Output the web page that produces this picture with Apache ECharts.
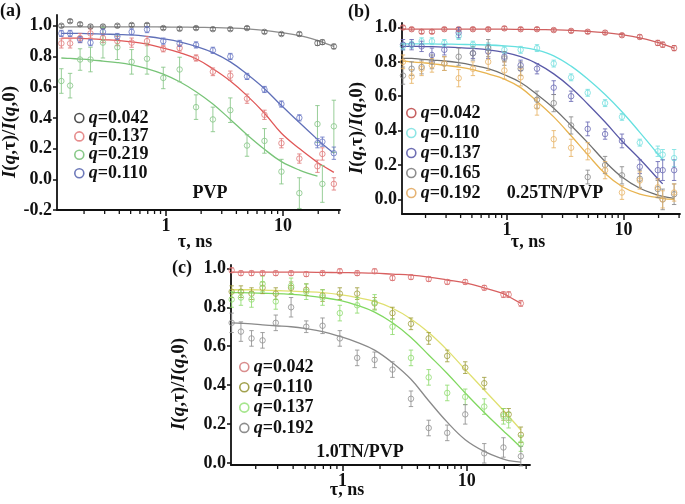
<!DOCTYPE html>
<html><head><meta charset="utf-8">
<script src="https://cdn.jsdelivr.net/npm/echarts@6/dist/echarts.min.js"></script>
<style>html,body{margin:0;padding:0;background:#fff}#c{width:685px;height:504px}</style>
</head><body><div id="c"></div>
<script>
// delay times (ns), shared by all panels
const tau = [0.128, 0.152, 0.185, 0.227, 0.29, 0.385, 0.51, 0.69, 0.95, 1.31, 1.81, 2.52, 3.55, 4.93, 6.95, 9.7, 13.8, 19.7, 21.7, 27.2];
const xMajorTicks = [1, 10];
const xMinorTicks = [0.2,0.3,0.4,0.5,0.6,0.7,0.8,0.9,2,3,4,5,6,7,8,9,20,30];

// ---- Panel (a) PVP ----
const A_yTicks = [-0.2, 0, 0.2, 0.4, 0.6, 0.8, 1.0];
const A_042 = [1.0, 1.03, 1.01, 0.995, 0.995, 1.0, 1.005, 1.005, 0.985, 0.98, 0.985, 0.978, 0.978, 0.985, 0.96, 0.946, 0.946, 0.887, 0.893, 0.865];
const A_042_err = [0.01,0.01,0.01,0.01,0.01,0.01,0.01,0.01,0.01,0.01,0.01,0.01,0.01,0.01,0.01,0.01,0.012,0.015,0.015,0.015];
const A_042_fit = [0.993,0.993,0.993,0.993,0.993,0.993,0.993,0.993,0.992,0.991,0.99,0.988,0.985,0.98,0.97,0.955,0.935,0.905,0.893,0.865];
const A_137 = [0.885, 0.885, 0.92, 0.95, 0.92, 0.90, 0.89, 0.90, 0.85, 0.855, 0.79, 0.70, 0.675, 0.525, 0.42, 0.235, 0.135, 0.085, 0.165, -0.03];
const A_137_err = [0.03,0.03,0.03,0.03,0.03,0.03,0.03,0.03,0.02,0.02,0.02,0.025,0.03,0.03,0.03,0.03,0.03,0.04,0.04,0.04];
const A_137_fit = [0.92,0.92,0.918,0.915,0.91,0.905,0.895,0.88,0.855,0.825,0.785,0.72,0.64,0.545,0.43,0.30,0.20,0.11,0.09,0.045];
const A_219 = [0.64, 0.61, 0.78, 0.78, 0.89, 0.86, 0.765, 0.785, 0.66, 0.715, 0.47, 0.39, 0.45, 0.22, 0.25, 0.05, -0.09, 0.36, -0.03, 0.345];
const A_219_err = [0.08,0.08,0.07,0.08,0.1,0.08,0.08,0.1,0.07,0.08,0.08,0.08,0.08,0.07,0.08,0.08,0.1,0.12,0.12,0.17];
const A_219_fit = [0.79,0.787,0.783,0.778,0.77,0.76,0.745,0.72,0.685,0.635,0.57,0.49,0.39,0.29,0.195,0.115,0.06,0.02,null,null];
const A_110 = [0.95, 0.95, 0.91, 0.89, 0.96, 0.93, 0.96, 0.975, 0.90, 0.885, 0.875, 0.84, 0.80, 0.67, 0.585, 0.49, 0.40, 0.235, 0.245, 0.17];
const A_110_err = [0.02,0.02,0.02,0.02,0.02,0.02,0.02,0.02,0.02,0.02,0.02,0.02,0.02,0.02,0.02,0.02,0.02,0.03,0.03,0.04];
const A_110_fit = [0.95,0.95,0.95,0.948,0.946,0.943,0.94,0.93,0.915,0.895,0.865,0.825,0.765,0.685,0.59,0.48,0.37,0.26,0.23,0.17];

// ---- Panel (b) 0.25TN/PVP ----
const B_yTicks = [0, 0.2, 0.4, 0.6, 0.8, 1.0];
const B_042 = [1.0, 0.99, 0.975, 0.975, 0.99, 0.99, 0.99, 0.99, 0.995, 0.99, 0.99, 0.985, 0.98, 0.975, 0.97, 0.955, 0.945, 0.91, 0.90, 0.88];
const B_042_err = [0.01,0.01,0.01,0.01,0.01,0.01,0.01,0.01,0.01,0.01,0.01,0.01,0.01,0.01,0.01,0.01,0.012,0.015,0.015,0.015];
const B_042_fit = [0.99,0.99,0.99,0.99,0.99,0.99,0.99,0.99,0.99,0.989,0.988,0.986,0.983,0.978,0.97,0.958,0.94,0.913,0.903,0.88];
const B_110 = [0.89, 0.90, 0.92, 0.92, 0.91, 0.95, 0.90, 0.89, 0.87, 0.87, 0.88, 0.79, 0.71, 0.62, 0.56, 0.48, 0.33, 0.28, 0.26, 0.24];
const B_110_err = [0.02,0.02,0.02,0.02,0.02,0.02,0.02,0.02,0.02,0.02,0.02,0.02,0.02,0.02,0.02,0.02,0.02,0.03,0.03,0.05];
const B_110_fit = [0.905,0.905,0.905,0.904,0.903,0.902,0.9,0.898,0.893,0.885,0.868,0.835,0.775,0.70,0.61,0.51,0.39,0.265,0.23,null];
const B_137 = [0.90, 0.90, 0.89, 0.84, 0.87, 0.97, 0.85, 0.86, 0.83, 0.78, 0.76, 0.65, 0.60, 0.41, 0.38, 0.34, 0.19, 0.17, 0.17, 0.17];
const B_137_err = [0.03,0.03,0.03,0.04,0.03,0.03,0.03,0.04,0.03,0.03,0.03,0.04,0.03,0.04,0.03,0.04,0.04,0.05,0.06,0.06];
const B_137_fit = [0.89,0.89,0.889,0.888,0.886,0.883,0.878,0.87,0.855,0.83,0.79,0.73,0.65,0.555,0.45,0.34,0.235,0.12,0.09,null];
const B_165 = [0.72, 0.76, 0.77, 0.80, 0.79, 0.83, 0.85, 0.88, 0.82, 0.76, 0.58, 0.56, 0.43, 0.13, 0.20, 0.14, 0.12, 0.06, 0.0, 0.03];
const B_165_err = [0.05,0.04,0.04,0.04,0.04,0.05,0.04,0.05,0.04,0.04,0.05,0.05,0.05,0.04,0.05,0.05,0.05,0.05,0.06,0.06];
const B_165_fit = [0.82,0.82,0.815,0.81,0.805,0.795,0.78,0.76,0.725,0.68,0.61,0.53,0.43,0.33,0.22,0.13,0.065,0.025,0.018,0.006];
const B_192 = [0.80, 0.715, 0.76, 0.78, 0.79, 0.705, 0.76, 0.80, 0.75, 0.71, 0.54, 0.35, 0.30, 0.28, 0.17, 0.04, 0.11, 0.07, 0.0, 0.04];
const B_192_err = [0.04,0.04,0.04,0.04,0.04,0.05,0.04,0.05,0.05,0.05,0.05,0.05,0.05,0.05,0.05,0.04,0.05,0.05,0.05,0.05];
const B_192_fit = [0.805,0.80,0.795,0.79,0.78,0.77,0.755,0.73,0.70,0.65,0.57,0.48,0.37,0.26,0.15,0.075,0.03,0.01,0.005,0.0];

// ---- Panel (c) 1.0TN/PVP ----
const C_yTicks = [0, 0.2, 0.4, 0.6, 0.8, 1.0];
const C_042 = [0.99, 0.975, 0.975, 0.975, 0.975, 0.975, 0.97, 0.975, 0.985, 0.975, 0.985, 0.95, 0.955, 0.945, 0.93, 0.93, 0.90, 0.865, 0.865, 0.82];
const C_042_err = [0.012,0.012,0.012,0.012,0.012,0.012,0.012,0.012,0.012,0.012,0.012,0.012,0.012,0.012,0.012,0.012,0.012,0.015,0.015,0.015];
const C_042_fit = [0.98,0.98,0.98,0.98,0.98,0.98,0.98,0.979,0.978,0.977,0.975,0.97,0.965,0.955,0.94,0.925,0.90,0.87,0.855,0.82];
const C_110 = [0.88, 0.88, 0.87, 0.90, 0.87, 0.90, 0.89, 0.86, 0.87, 0.87, 0.82, 0.77, 0.715, 0.64, 0.55, 0.49, 0.41, 0.25, 0.25, 0.145];
const C_110_err = [0.03,0.03,0.03,0.03,0.03,0.03,0.03,0.03,0.03,0.03,0.03,0.03,0.03,0.03,0.03,0.03,0.03,0.03,0.03,0.04];
const C_110_fit = [0.89,0.89,0.89,0.888,0.886,0.883,0.88,0.875,0.865,0.85,0.83,0.795,0.74,0.67,0.58,0.48,0.375,0.27,0.24,0.17];
const C_137 = [0.84, 0.85, 0.84, 0.92, 0.83, 0.91, 0.88, 0.85, 0.77, 0.81, 0.825, 0.70, 0.54, 0.44, 0.36, 0.34, 0.29, 0.24, 0.22, 0.10];
const C_137_err = [0.04,0.04,0.04,0.04,0.04,0.04,0.04,0.04,0.04,0.04,0.04,0.04,0.04,0.04,0.04,0.04,0.04,0.04,0.04,0.04];
const C_137_fit = [0.875,0.875,0.874,0.872,0.87,0.866,0.86,0.85,0.835,0.81,0.775,0.72,0.645,0.555,0.46,0.36,0.26,0.165,0.14,0.08];
const C_192 = [0.72, 0.675, 0.64, 0.63, 0.72, 0.80, 0.70, 0.705, 0.64, 0.54, 0.53, 0.48, 0.33, 0.18, 0.155, 0.25, 0.05, 0.08, null, 0.035];
const C_192_err = [0.05,0.05,0.04,0.04,0.04,0.05,0.03,0.04,0.04,0.04,0.04,0.04,0.04,0.04,0.04,0.05,0.05,0.05,0,0.05];
const C_192_fit = [0.72,0.718,0.715,0.71,0.705,0.70,0.69,0.675,0.65,0.62,0.58,0.515,0.43,0.32,0.21,0.12,0.06,0.02,0.013,0.005];

const FONT = '"Liberation Serif","Times New Roman",serif';

const panels = [
  { grid:{left:57, top:15, width:283, height:195}, xr:[-0.93,1.487], yr:[-0.2,1.07], yt:A_yTicks,
    legend:{left:74, top:109, gap:0.4},
    sets:[
      {q:'0.042', pts:A_042, err:A_042_err, fit:A_042_fit, mc:'#666', lc:'#8c8c8c', ic:'#222'},
      {q:'0.137', pts:A_137, err:A_137_err, fit:A_137_fit, mc:'#e07a7a', lc:'#e05858', ic:'#e07070'},
      {q:'0.219', pts:A_219, err:A_219_err, fit:A_219_fit, mc:'#86c686', lc:'#78c478', ic:'#6cbc6c'},
      {q:'0.110', pts:A_110, err:A_110_err, fit:A_110_fit, mc:'#6a78c4', lc:'#6070b8', ic:'#4858a8'}
    ]},
  { grid:{left:402, top:23, width:278, height:191}, xr:[-0.901,1.485], yr:[-0.085,1.026], yt:B_yTicks,
    legend:{left:406, top:104, gap:2},
    sets:[
      {q:'0.042', pts:B_042, err:B_042_err, fit:B_042_fit, mc:'#cc6060', lc:'#d06060', ic:'#b83838'},
      {q:'0.110', pts:B_110, err:B_110_err, fit:B_110_fit, mc:'#78e0e0', lc:'#66e0e0', ic:'#70dede'},
      {q:'0.137', pts:B_137, err:B_137_err, fit:B_137_fit, mc:'#6a6ab4', lc:'#5a5aa8', ic:'#4a4aa0'},
      {q:'0.165', pts:B_165, err:B_165_err, fit:B_165_fit, mc:'#8a8a8a', lc:'#707070', ic:'#707070'},
      {q:'0.192', pts:B_192, err:B_192_err, fit:B_192_fit, mc:'#e8b466', lc:'#e8b450', ic:'#e0a050'}
    ]},
  { grid:{left:231, top:265, width:299, height:200}, xr:[-0.898,1.508], yr:[-0.01,1.017], yt:C_yTicks,
    legend:{left:239, top:358, gap:2.3},
    sets:[
      {q:'0.042', pts:C_042, err:C_042_err, fit:C_042_fit, mc:'#dc7474', lc:'#d86060', ic:'#d07070'},
      {q:'0.110', pts:C_110, err:C_110_err, fit:C_110_fit, mc:'#a0a040', lc:'#e0e070', ic:'#8a8a20'},
      {q:'0.137', pts:C_137, err:C_137_err, fit:C_137_fit, mc:'#90dc70', lc:'#80d860', ic:'#90e070'},
      {q:'0.192', pts:C_192, err:C_192_err, fit:C_192_fit, mc:'#909090', lc:'#8a8a8a', ic:'#707070'}
    ]}
];

const L = Math.log10;
const grids = [], xAxes = [], yAxes = [], series = [], legends = [];
const axisLineStyle = {color:'#111', width:1.8};
const labelFont = {fontFamily:FONT, fontWeight:'bold', fontSize:18, color:'#111'};

panels.forEach((p, i) => {
  grids.push(Object.assign({containLabel:false}, p.grid));
  xAxes.push({
    type:'value', gridIndex:i, min:p.xr[0], max:p.xr[1], position:'bottom',
    axisLine:{show:true, onZero:false, lineStyle:axisLineStyle},
    axisTick:{show:true, inside:false, length:6, lineStyle:{color:'#111', width:1.5}, customValues:xMajorTicks.map(L)},
    axisLabel:Object.assign({show:true, margin:7, customValues:xMajorTicks.map(L), formatter:v=>String(Math.round(Math.pow(10,v)))}, labelFont),
    splitLine:{show:false}
  });
  yAxes.push({
    type:'value', gridIndex:i, min:p.yr[0], max:p.yr[1],
    axisLine:{show:true, onZero:false, lineStyle:axisLineStyle},
    axisTick:{show:true, inside:false, length:4, lineStyle:{color:'#111', width:1.5}, customValues:p.yt},
    axisLabel:Object.assign({show:true, margin:5, customValues:p.yt, formatter:v=>v.toFixed(1)}, labelFont),
    splitLine:{show:false}
  });
  // minor log ticks placed through the x scale at the bottom edge of the grid
  const yMin = p.yr[0];
  series.push({type:'custom', xAxisIndex:i, yAxisIndex:i, clip:false, silent:true, animation:false, z:5,
    data:xMinorTicks.map(v => [L(v), yMin]), encode:{x:0, y:1},
    renderItem:(params, api) => {
      const c = api.coord([api.value(0), api.value(1)]);
      return {type:'line', shape:{x1:c[0], y1:c[1], x2:c[0], y2:c[1] + 4}, style:{stroke:'#111', lineWidth:1.3}};
    }});
  const legendData = [];
  p.sets.forEach((s, k) => {
    const name = i + '-' + s.q + '-' + k;
    const fitData = [], ptData = [], errData = [];
    s.fit.forEach((v, j) => { if (v !== null) fitData.push([L(tau[j]), v]); });
    s.pts.forEach((v, j) => { if (v !== null) { ptData.push([L(tau[j]), v]); errData.push([L(tau[j]), v, s.err[j]]); } });
    series.push({type:'line', xAxisIndex:i, yAxisIndex:i, data:fitData, smooth:0.4, symbol:'none',
      lineStyle:{color:s.lc, width:1.3}, z:2, silent:true, animation:false});
    const col = s.mc;
    series.push({type:'custom', xAxisIndex:i, yAxisIndex:i, data:errData, z:3, silent:true, animation:false,
      encode:{x:0, y:1},
      renderItem:(params, api) => {
        const x = api.value(0), y = api.value(1), e = api.value(2);
        const lo = api.coord([x, y - e]), hi = api.coord([x, y + e]);
        const w = 2.2;
        const st = {stroke:col, lineWidth:1, opacity:0.85};
        return {type:'group', children:[
          {type:'line', shape:{x1:lo[0], y1:lo[1], x2:hi[0], y2:hi[1]}, style:st},
          {type:'line', shape:{x1:lo[0]-w, y1:lo[1], x2:lo[0]+w, y2:lo[1]}, style:st},
          {type:'line', shape:{x1:hi[0]-w, y1:hi[1], x2:hi[0]+w, y2:hi[1]}, style:st}
        ]};
      }});
    series.push({type:'scatter', name:name, xAxisIndex:i, yAxisIndex:i, data:ptData, symbol:'circle', symbolSize:5.5,
      itemStyle:{color:'rgba(255,255,255,0)', borderColor:col, borderWidth:1}, z:4, silent:true, animation:false});
    legendData.push({name:name, icon:'circle', itemStyle:{color:'#fff', borderColor:s.ic, borderWidth:1.6}});
  });
  legends.push({
    orient:'vertical', left:p.legend.left, top:p.legend.top, itemGap:p.legend.gap, itemWidth:9, itemHeight:9,
    selectedMode:false, data:legendData, padding:0,
    formatter:n => '{q|q}=' + n.split('-')[1],
    textStyle:{fontFamily:FONT, fontWeight:'bold', fontSize:18, color:'#111', lineHeight:18,
      rich:{q:{fontFamily:FONT, fontWeight:'bold', fontStyle:'italic', fontSize:18, color:'#111', lineHeight:18}}}
  });
});

function txt(x, y, s, align) {
  return {type:'text', x:x, y:y, style:{text:s, font:'bold 18px ' + FONT, fill:'#111', align:align || 'center', verticalAlign:'middle'}};
}
const yTitleRich = {
  i:{fontFamily:FONT, fontWeight:'bold', fontStyle:'italic', fontSize:19, fill:'#111'},
  n:{fontFamily:FONT, fontWeight:'bold', fontSize:19, fill:'#111'}
};
const yTitle = '{i|I}{n|(}{i|q}{n|,τ)/}{i|I}{n|(}{i|q}{n|,0)}';
function ytxt(x, y) {
  return {type:'text', x:x, y:y, rotation:Math.PI/2,
    style:{text:yTitle, rich:yTitleRich, align:'center', verticalAlign:'middle', fill:'#111'}};
}

const graphics = [
  txt(0, 11, '(a)', 'left'),
  txt(348, 12, '(b)', 'left'),
  txt(172, 268, '(c)', 'left'),
  txt(210, 193, 'PVP'),
  txt(555, 193, '0.25TN/PVP'),
  txt(360, 452, '1.0TN/PVP'),
  txt(195, 242, 'τ, ns'),
  txt(528, 242, 'τ, ns'),
  txt(347, 490, 'τ, ns'),
  ytxt(10, 132), ytxt(357, 128), ytxt(179, 384)
];

const chart = echarts.init(document.getElementById('c'), null, {renderer:'canvas'});
chart.setOption({
  animation:false,
  backgroundColor:'#fff',
  grid:grids, xAxis:xAxes, yAxis:yAxes, series:series, legend:legends, graphic:graphics
});
</script>
</body></html>
